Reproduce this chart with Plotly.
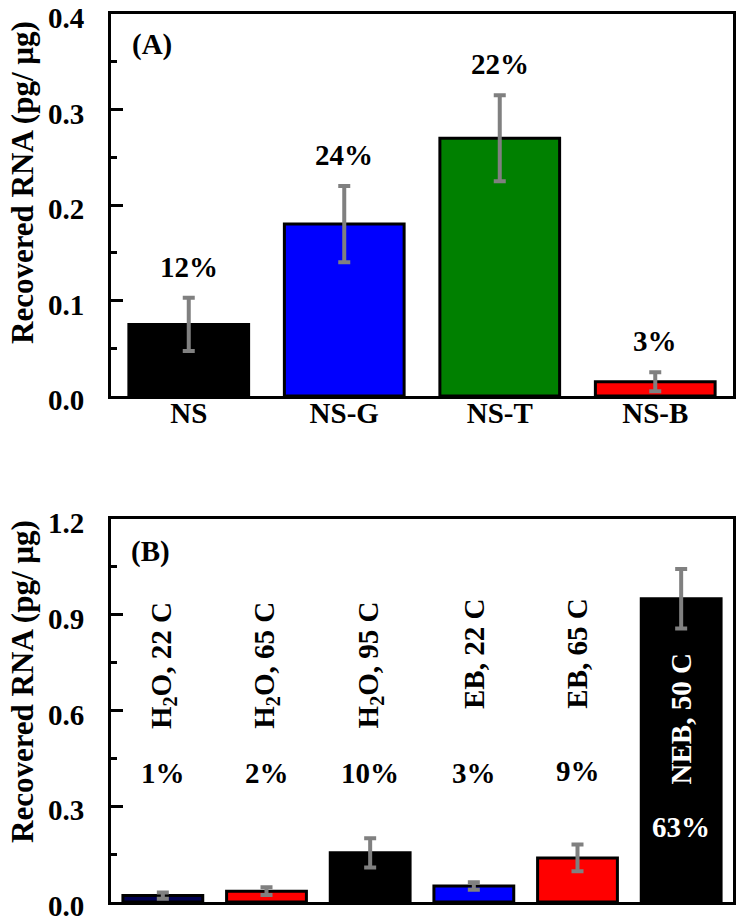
import plotly.graph_objects as go

# ---- Panel A data ----
cats_a = ["NS", "NS-G", "NS-T", "NS-B"]
vals_a = [0.075, 0.180, 0.270, 0.015]
errs_a = [0.028, 0.040, 0.045, 0.010]
pct_a = ["12%", "24%", "22%", "3%"]
colors_a = ["#000000", "#0000FF", "#008000", "#FF0000"]

# ---- Panel B data ----
cats_b = ["H<sub>2</sub>O, 22 C", "H<sub>2</sub>O, 65 C", "H<sub>2</sub>O, 95 C",
          "EB, 22 C", "EB, 65 C", "NEB, 50 C"]
vals_b = [0.020, 0.034, 0.154, 0.050, 0.138, 0.950]
errs_b = [0.010, 0.012, 0.046, 0.012, 0.042, 0.093]
pct_b = ["1%", "2%", "10%", "3%", "9%", "63%"]
colors_b = ["#000050", "#FF0000", "#000000", "#0000FF", "#FF0000", "#000000"]

FONT = "Liberation Serif"
FS = 29
TFS = 29

fig = go.Figure()

fig.add_trace(go.Bar(
    x=cats_a, y=vals_a, width=0.77,
    marker=dict(color=colors_a, line=dict(color="black", width=3)),
    error_y=dict(type="data", array=errs_a, visible=True, color="#808080",
                 thickness=4, width=6),
    xaxis="x", yaxis="y", showlegend=False))

fig.add_trace(go.Bar(
    x=list(range(len(cats_b))), y=vals_b, width=0.77,
    marker=dict(color=colors_b, line=dict(color="black", width=3)),
    error_y=dict(type="data", array=errs_b, visible=True, color="#808080",
                 thickness=4, width=6),
    xaxis="x2", yaxis="y2", showlegend=False))

W, H = 743, 922
ml, mr, mt, mb = 111, 10, 14, 20
ph = H - mt - mb
a_bot = (H - mb - 396) / ph

axis_common = dict(showline=True, linewidth=3, linecolor="black", mirror=True,
                   showgrid=False, zeroline=False, automargin=False)

fig.update_layout(
    width=W, height=H,
    margin=dict(l=ml, r=mr, t=mt, b=mb),
    paper_bgcolor="white", plot_bgcolor="white",
    font=dict(family=FONT, size=FS, color="black"),
    xaxis=dict(domain=[0, 1], anchor="y", range=[-0.5, 3.5], ticks="",
               ticklen=0, ticklabelstandoff=-11,
               tickfont=dict(family=FONT, size=FS, color="black", weight="bold"),
               **axis_common),
    yaxis=dict(domain=[a_bot, 1], anchor="x", range=[0, 0.4], dtick=0.1,
               tickformat=".1f", ticks="inside", ticklen=12, tickwidth=3,
               tickcolor="black", ticklabelstandoff=18, ticklabelshift=4,
               ticklabeloverflow="allow",
               minor=dict(dtick=0.05, ticks="inside", ticklen=6, tickwidth=3,
                          tickcolor="black"),
               tickfont=dict(family=FONT, size=TFS, color="black", weight="bold"),
               **axis_common),
    xaxis2=dict(domain=[0, 1], anchor="y2", range=[-0.5, 5.5], ticks="",
                showticklabels=False, **axis_common),
    yaxis2=dict(domain=[0, (H - mb - 519) / ph], anchor="x2", range=[0, 1.2],
                dtick=0.3, tickformat=".1f", ticks="inside", ticklen=12,
                tickwidth=3, tickcolor="black", ticklabelstandoff=18,
                ticklabelshift=4, ticklabeloverflow="allow",
                minor=dict(dtick=0.15, ticks="inside", ticklen=6, tickwidth=3,
                           tickcolor="black"),
                tickfont=dict(family=FONT, size=TFS, color="black", weight="bold"),
                **axis_common),
)

bold = lambda s: "<b>" + s + "</b>"
ann = []

# Panel A percentages above error bars
for c, v, e, p in zip(cats_a, vals_a, errs_a, pct_a):
    ann.append(dict(x=c, y=v + e, xref="x", yref="y", text=bold(p),
                    showarrow=False, yanchor="middle", yshift=31,
                    font=dict(family=FONT, size=FS, color="black")))

# Panel B rotated labels and percentages
label_top = [0.947, 0.947, 0.947, 0.955, 0.955, 0.784]
pct_y = [0.404, 0.404, 0.404, 0.404, 0.41, 0.235]
for i, (c, p) in enumerate(zip(cats_b, pct_b)):
    col = "white" if i == 5 else "black"
    ann.append(dict(x=i, y=label_top[i], xref="x2", yref="y2", text=bold(c),
                    textangle=-90, showarrow=False, xanchor="center",
                    yanchor="top",
                    font=dict(family=FONT, size=FS, color=col)))
    ann.append(dict(x=i, y=pct_y[i], xref="x2", yref="y2", text=bold(p),
                    showarrow=False, xanchor="center", yanchor="middle",
                    font=dict(family=FONT, size=FS, color=col)))

# Panel letters
ann.append(dict(x=0.066, y=0.919, xref="x domain", yref="y domain",
                text=bold("(A)"), showarrow=False, xanchor="center",
                yanchor="middle", font=dict(family=FONT, size=FS, color="black")))
ann.append(dict(x=0.063, y=0.914, xref="x2 domain", yref="y2 domain",
                text=bold("(B)"), showarrow=False, xanchor="center",
                yanchor="middle", font=dict(family=FONT, size=FS, color="black")))

# Y axis titles
ytitle = bold("Recovered RNA (pg/ \u00b5g)")
ann.append(dict(x=(22 - ml) / (W - ml - mr), y=(396 - 183) / 382,
                xref="x domain", yref="y domain", text=ytitle, textangle=-90,
                showarrow=False, xanchor="center", yanchor="middle",
                font=dict(family=FONT, size=31, color="black")))
ann.append(dict(x=(22 - ml) / (W - ml - mr), y=(902 - 682) / 383,
                xref="x2 domain", yref="y2 domain", text=ytitle, textangle=-90,
                showarrow=False, xanchor="center", yanchor="middle",
                font=dict(family=FONT, size=31, color="black")))

fig.update_layout(annotations=ann)
fig.write_html("out.html",
               config={"displayModeBar": False},
               post_script="document.body.style.margin='0px';"
                           "document.body.style.overflow='hidden';")
